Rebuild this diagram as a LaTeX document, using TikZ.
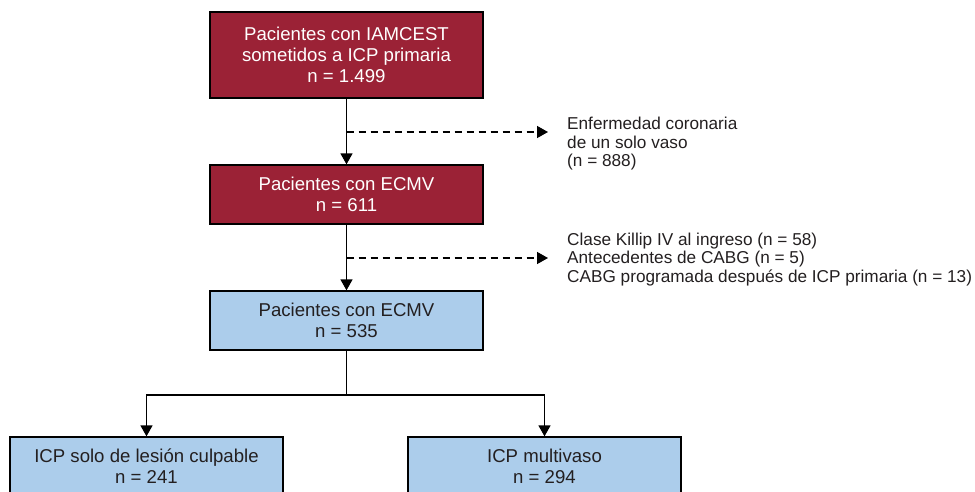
\documentclass[tikz,border=0pt]{standalone}
\usepackage{fontspec}
\setmainfont{Liberation Sans}
\usetikzlibrary{arrows.meta}
\definecolor{boxred}{RGB}{155,34,54}
\definecolor{boxblue}{RGB}{172,205,235}
\definecolor{txtdark}{RGB}{35,31,32}
\tikzset{
  redbox/.style={draw=black, line width=1.3pt, fill=boxred, text=white, minimum width=273pt, inner sep=0pt, align=center, font=\fontsize{18.6}{21}\selectfont},
  bluebox/.style={draw=black, line width=1.3pt, fill=boxblue, text=txtdark, minimum width=273pt, minimum height=59pt, inner sep=0pt, align=center, font=\fontsize{18.6}{21}\selectfont},
  sidetext/.style={anchor=west, align=left, inner sep=0pt, text=txtdark, font=\fontsize{17.2}{18.5}\selectfont},
  conn/.style={line width=1.4pt, -{Triangle[width=12pt,length=11pt]}},
  excl/.style={line width=1.4pt, dash pattern=on 7pt off 5pt, -{Triangle[width=12pt,length=11pt]}},
  plain/.style={line width=1.4pt}
}
\begin{document}
\begin{tikzpicture}[x=1pt,y=-1pt]
\useasboundingbox (0,0) rectangle (975,491);
\node[redbox, minimum height=86pt] (b1) at (346.5,55) {Pacientes con IAMCEST\\sometidos a ICP primaria\\n = 1.499};
\node[redbox, minimum height=59pt] (b2) at (346.5,194.5) {Pacientes con ECMV\\n = 611};
\node[bluebox] (b3) at (346.5,320.5) {Pacientes con ECMV\\n = 535};
\node[bluebox] (bl) at (146.5,466.5) {ICP solo de lesión culpable\\n = 241};
\node[bluebox] (br) at (544.5,466.5) {ICP multivaso\\n = 294};
\node[sidetext] (s1) at (567,144) {Enfermedad coronaria\\de un solo vaso\\(n = 888)};
\node[sidetext] (s2) at (567,259.5) {Clase Killip IV al ingreso (n = 58)\\Antecedentes de CABG (n = 5)\\CABG programada después de ICP primaria (n = 13)};
\coordinate (d1) at (346.5,132);
\coordinate (e1) at (548,132);
\coordinate (d2) at (346.5,258);
\coordinate (e2) at (548,258);
\coordinate (sp) at (346.5,395);
\draw[conn] (b1.south) -- (b2.north);
\draw[conn] (b2.south) -- (b3.north);
\draw[excl] (d1) -- (e1);
\draw[excl] (d2) -- (e2);
\draw[plain] (b3.south) -- (sp);
\draw[conn] (sp) -| (bl.north);
\draw[conn] (sp) -| (br.north);
\end{tikzpicture}
\end{document}
